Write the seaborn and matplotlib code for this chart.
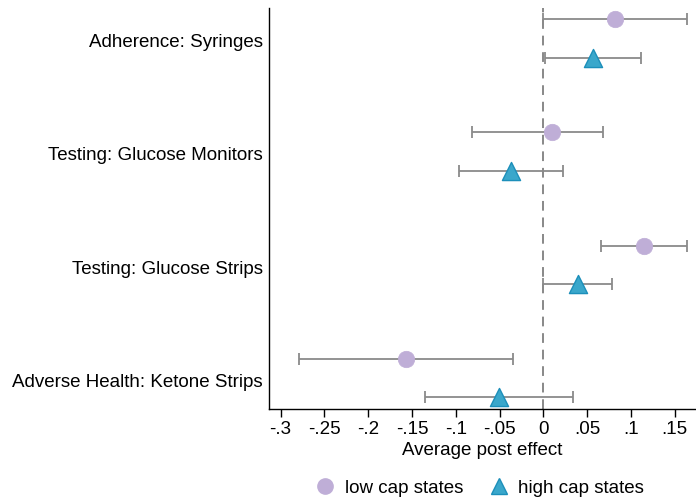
import matplotlib
matplotlib.use("Agg")
import matplotlib.pyplot as plt
import seaborn as sns
import pandas as pd
import numpy as np
from matplotlib.lines import Line2D

categories = ["Adherence: Syringes", "Testing: Glucose Monitors",
              "Testing: Glucose Strips", "Adverse Health: Ketone Strips"]
low_est = [0.0815, 0.0103, 0.1153, -0.157]
low_lo = [-0.0007, -0.0817, 0.0662, -0.2785]
low_hi = [0.1637, 0.068, 0.1644, -0.035]
high_est = [0.057, -0.0369, 0.0393, -0.0509]
high_lo = [0.002, -0.0959, 0.0, -0.135]
high_hi = [0.112, 0.0221, 0.0784, 0.0335]
series = ["low cap states", "high cap states"]
xticks = [-0.3, -0.25, -0.2, -0.15, -0.1, -0.05, 0, 0.05, 0.1, 0.15]
xticklabels = ["-.3", "-.25", "-.2", "-.15", "-.1", "-.05", "0", ".05", ".1", ".15"]

sns.set_style("white")
plt.rcParams['font.family'] = ['Liberation Sans', 'DejaVu Sans']
plt.rcParams['text.color'] = 'black'
plt.rcParams['xtick.color'] = 'black'
plt.rcParams['ytick.color'] = 'black'
plt.rcParams['axes.labelcolor'] = 'black'

FS = 13.5

offsets = {"low cap states": -0.19, "high cap states": 0.15}
rows = []
for i, c in enumerate(categories):
    rows.append(dict(cat=c, series="low cap states", est=low_est[i], lo=low_lo[i], hi=low_hi[i], y=i + offsets["low cap states"]))
    rows.append(dict(cat=c, series="high cap states", est=high_est[i], lo=high_lo[i], hi=high_hi[i], y=i + offsets["high cap states"]))
df = pd.DataFrame(rows)

fig = plt.figure(figsize=(6.96, 5.03), dpi=100)
ax = fig.add_axes([268.5 / 696, 1 - 408.5 / 503, 1 - 268.5 / 696, 400.5 / 503])

ax.axvline(0, color="#888888", lw=1.4, ls=(0, (5, 3.5)), zorder=1)

for s in series:
    d = df[df.series == s]
    ax.errorbar(d.est, d.y, xerr=[d.est - d.lo, d.hi - d.est], fmt="none",
                ecolor="#8a8a8a", elinewidth=1.3, capsize=4, capthick=1.3, zorder=2)

d1 = df[df.series == "low cap states"]
sns.scatterplot(data=d1, x="est", y="y", ax=ax, color="#bfaed7", marker="o",
                s=140, edgecolor="#bfaed7", linewidth=0.5, zorder=3, legend=False)
d2 = df[df.series == "high cap states"]
sns.scatterplot(data=d2, x="est", y="y", ax=ax, color="#3aa7cb", marker="^",
                s=170, edgecolor="#1c8fba", linewidth=1.0, zorder=3, legend=False)

ax.set_xlim(-0.3137, 0.1743)
ax.set_ylim(3.25, -0.29)
ax.set_yticks(range(len(categories)))
ax.set_yticklabels(categories, fontsize=FS)
ax.set_xticks(xticks)
ax.set_xticklabels(xticklabels, fontsize=FS)
ax.set_xlabel("Average post effect", fontsize=FS, labelpad=3)
ax.set_ylabel("")
for sp in ["top", "right"]:
    ax.spines[sp].set_visible(False)
for sp in ["left", "bottom"]:
    ax.spines[sp].set_color("black")
    ax.spines[sp].set_linewidth(1.0)
ax.tick_params(axis="x", direction="out", length=6, width=1, color="black", pad=3, bottom=True)
ax.tick_params(axis="y", length=0, pad=4)

handles = [Line2D([], [], ls="none", marker="o", markersize=11, markerfacecolor="#bfaed7",
                  markeredgecolor="#bfaed7", label="low cap states"),
           Line2D([], [], ls="none", marker="^", markersize=12, markerfacecolor="#3aa7cb",
                  markeredgecolor="#1c8fba", label="high cap states")]
fig.legend(handles=handles, loc="center", bbox_to_anchor=(479 / 696, 1 - 488 / 503), ncol=2,
           frameon=False, fontsize=FS, handlelength=1.2, handletextpad=0.45, columnspacing=1.3)

fig.savefig("out.png", dpi=100)
